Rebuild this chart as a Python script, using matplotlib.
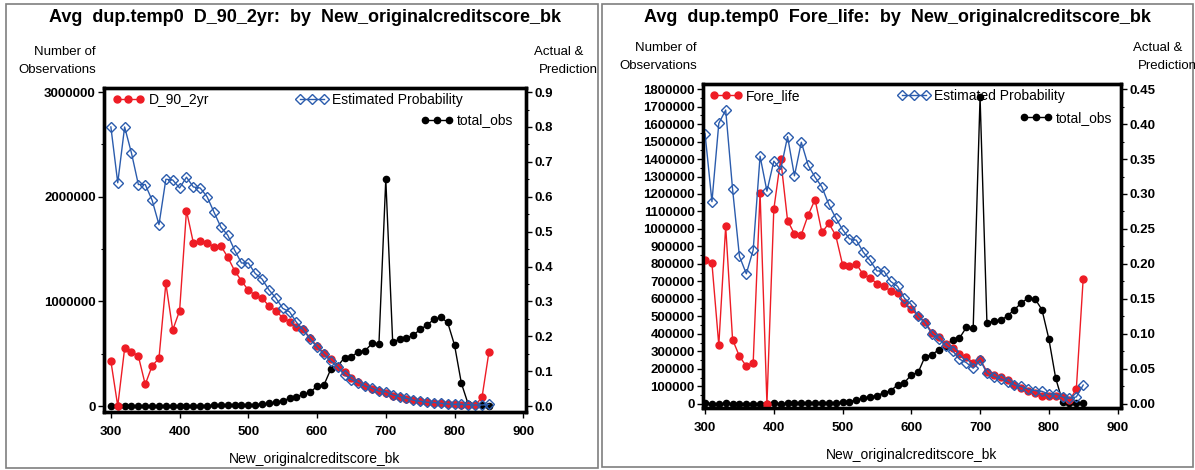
import matplotlib
matplotlib.use("Agg")
import matplotlib.pyplot as plt
from matplotlib.patches import Rectangle
from matplotlib.ticker import MultipleLocator, FormatStrFormatter, FuncFormatter

plt.rcParams["font.family"] = ["Liberation Sans", "DejaVu Sans"]

# credit score bins (x categories)
score_bins = [300, 310, 320, 330, 340, 350, 360, 370, 380, 390,
              400, 410, 420, 430, 440, 450, 460, 470, 480, 490,
              500, 510, 520, 530, 540, 550, 560, 570, 580, 590,
              600, 610, 620, 630, 640, 650, 660, 670, 680, 690,
              700, 710, 720, 730, 740, 750, 760, 770, 780, 790,
              800, 810, 820, 830, 840, 850]

# left panel: D_90_2yr
d90_actual = [0.129, 0.000, 0.165, 0.156, 0.143, 0.062, 0.115, 0.137, 0.352, 0.218,
              0.273, 0.560, 0.468, 0.473, 0.467, 0.457, 0.459, 0.427, 0.388, 0.359,
              0.332, 0.318, 0.309, 0.287, 0.273, 0.253, 0.242, 0.227, 0.220, 0.194,
              0.172, 0.151, 0.135, 0.113, 0.098, 0.080, 0.068, 0.058, 0.050, 0.044,
              0.038, 0.030, 0.026, 0.021, 0.017, 0.014, 0.011, 0.009, 0.008, 0.006,
              0.005, 0.004, 0.003, 0.002, 0.025, 0.154]
d90_est = [0.800, 0.640, 0.800, 0.725, 0.635, 0.635, 0.590, 0.520, 0.650, 0.648,
           0.625, 0.656, 0.628, 0.625, 0.600, 0.556, 0.513, 0.490, 0.447, 0.410,
           0.410, 0.380, 0.364, 0.333, 0.310, 0.280, 0.270, 0.240, 0.218, 0.192,
           0.169, 0.149, 0.129, 0.112, 0.090, 0.076, 0.067, 0.057, 0.051, 0.043,
           0.041, 0.032, 0.027, 0.022, 0.017, 0.014, 0.011, 0.010, 0.008, 0.006,
           0.005, 0.005, 0.004, 0.003, 0.003, 0.005]
d90_obs = [2000, 1000, 3000, 2000, 1500, 1500, 2000, 2500, 2500, 3000,
           3500, 3500, 4000, 4500, 5000, 5500, 6000, 7000, 8000, 9000,
           8000, 12000, 19000, 25000, 35000, 51000, 73000, 89000, 111000, 130000,
           191000, 200000, 353000, 382000, 463000, 471000, 519000, 528000, 599000, 589000,
           2168000, 614000, 637000, 647000, 678000, 732000, 774000, 828000, 847000, 799000,
           583000, 217000, 16000, 10000, 8000, 5000]

# right panel: Fore_life
fore_actual = [0.206, 0.201, 0.084, 0.254, 0.092, 0.068, 0.054, 0.059, 0.302, 0.000,
               0.278, 0.350, 0.262, 0.243, 0.242, 0.270, 0.292, 0.245, 0.258, 0.241,
               0.199, 0.197, 0.200, 0.185, 0.180, 0.172, 0.169, 0.161, 0.159, 0.144,
               0.136, 0.125, 0.117, 0.102, 0.095, 0.085, 0.080, 0.071, 0.067, 0.059,
               0.064, 0.046, 0.042, 0.038, 0.034, 0.027, 0.023, 0.018, 0.016, 0.012,
               0.011, 0.011, 0.010, 0.005, 0.021, 0.179]
fore_est = [0.386, 0.289, 0.401, 0.420, 0.307, 0.211, 0.186, 0.220, 0.354, 0.304,
            0.347, 0.335, 0.382, 0.326, 0.374, 0.341, 0.324, 0.310, 0.285, 0.266,
            0.249, 0.236, 0.234, 0.217, 0.205, 0.190, 0.190, 0.175, 0.168, 0.151,
            0.142, 0.125, 0.116, 0.100, 0.093, 0.083, 0.076, 0.064, 0.059, 0.051,
            0.063, 0.044, 0.039, 0.036, 0.032, 0.027, 0.025, 0.021, 0.019, 0.018,
            0.014, 0.014, 0.010, 0.008, 0.010, 0.027]
fore_obs = [3000, 1500, 1500, 3000, 2000, 1500, 1500, 1500, 1500, 2000,
            3000, 2000, 3000, 3000, 3500, 3500, 3500, 4000, 4000, 5000,
            9700, 13000, 23000, 32000, 42000, 46000, 65000, 74500, 109000, 122000,
            166000, 180000, 271000, 281000, 310000, 332000, 367000, 376000, 437000, 434000,
            1754000, 462000, 476000, 477000, 504000, 539000, 577000, 606000, 600000, 539000,
            373000, 147000, 13000, 4000, 4000, 3000]

W, H = 1195, 470
RED = "#ee1c25"
BLUE = "#2b5cad"
FS = 9.5


def fx(x):
    return x / W


def fy(y):
    return 1 - y / H


def draw_panel(fig, box, title, title_x, actual, est, obs, actual_name,
               obs_max, obs_step, prob_max, prob_step, prob_fmt, xlim, ylim_pad,
               left_lab, right_lab, leg):
    x0, y0, x1, y1 = box
    ax = fig.add_axes([fx(x0), fy(y1), fx(x1) - fx(x0), fy(y0) - fy(y1)])
    ax2 = ax.twinx()

    # total_obs on left axis, probabilities on right axis
    ax.plot(score_bins, obs, color="black", marker="o", markersize=4.5, lw=1.0,
            label="total_obs")
    ax2.plot(score_bins, actual, color=RED, marker="o", markersize=5, lw=1.0,
             label=actual_name)
    ax2.plot(score_bins, est, color=BLUE, marker="D", markersize=5, mfc="none",
             mew=1.0, lw=1.0, label="Estimated Probability")

    lo, hi = ylim_pad
    ax.set_xlim(*xlim)
    ax.set_ylim(lo * obs_max, hi * obs_max)
    ax2.set_ylim(lo * prob_max, hi * prob_max)

    ax.xaxis.set_major_locator(MultipleLocator(100))
    ax.yaxis.set_major_locator(MultipleLocator(obs_step))
    ax.yaxis.set_minor_locator(MultipleLocator(obs_step / 2))
    ax.yaxis.set_major_formatter(FuncFormatter(lambda v, p: f"{int(round(v))}"))
    ax2.yaxis.set_major_locator(MultipleLocator(prob_step))
    ax2.yaxis.set_minor_locator(MultipleLocator(prob_step / 2))
    ax2.yaxis.set_major_formatter(FormatStrFormatter(prob_fmt))

    for a in (ax, ax2):
        for s in a.spines.values():
            s.set_linewidth(2.4)
        a.tick_params(which="major", direction="out", length=4, width=1,
                      labelsize=FS, pad=2)
        a.tick_params(which="minor", direction="out", length=2.5, width=0.8)
        for lab in a.get_xticklabels() + a.get_yticklabels():
            lab.set_fontweight("bold")
    ax.tick_params(axis="x", pad=6)

    ax.set_xlabel("New_originalcreditscore_bk", fontsize=FS + 0.5, labelpad=10)

    # legends
    lines1 = ax2.get_lines()
    lines0 = ax.get_lines()
    kw = dict(frameon=False, fontsize=10, numpoints=3, handlelength=2.3,
              handletextpad=0.3, borderpad=0, borderaxespad=0)
    l1 = ax2.legend([lines1[0]], [actual_name], loc="center left",
                    bbox_to_anchor=(leg[0], leg[1]), **kw)
    ax2.add_artist(l1)
    l2 = ax2.legend([lines1[1]], ["Estimated Probability"], loc="center left",
                    bbox_to_anchor=(leg[2], leg[1]), **kw)
    ax2.add_artist(l2)
    ax2.legend([lines0[0]], ["total_obs"], loc="center right",
               bbox_to_anchor=(leg[3], leg[4]), **kw)

    fig.text(fx(title_x), fy(18), title, fontsize=13, fontweight="bold",
             ha="center", va="center")
    fig.text(fx(left_lab[0]), fy(left_lab[1]), "Number of", fontsize=FS,
             ha="right", va="center")
    fig.text(fx(left_lab[0]), fy(left_lab[1] + 18), "Observations", fontsize=FS,
             ha="right", va="center")
    fig.text(fx(right_lab[0]), fy(right_lab[1]), "Actual &", fontsize=FS,
             ha="center", va="center")
    fig.text(fx(right_lab[0] + 9), fy(right_lab[1] + 18), "Prediction", fontsize=FS,
             ha="center", va="center")
    return ax, ax2


fig = plt.figure(figsize=(W / 100, H / 100), dpi=100)

# panel borders
fig.patches.append(Rectangle((fx(6), fy(468)), fx(598) - fx(6), fy(4) - fy(468),
                             transform=fig.transFigure, fill=False,
                             edgecolor="#7f7f7f", lw=1.2))
fig.patches.append(Rectangle((fx(602), fy(467)), fx(1193) - fx(602), fy(4) - fy(467),
                             transform=fig.transFigure, fill=False,
                             edgecolor="#7f7f7f", lw=1.2))

draw_panel(fig, (104, 88, 526, 412),
           "Avg  dup.temp0  D_90_2yr:  by  New_originalcreditscore_bk", 305,
           d90_actual, d90_est, d90_obs, "D_90_2yr",
           3000000, 1000000, 0.9, 0.1, "%.1f", (290, 904), (-0.019, 1.013),
           (96, 52), (559, 52), (0.02, 0.963, 0.455, 0.97, 0.90))

draw_panel(fig, (703, 84, 1121, 408),
           "Avg  dup.temp0  Fore_life:  by  New_originalcreditscore_bk", 897,
           fore_actual, fore_est, fore_obs, "Fore_life",
           1800000, 100000, 0.45, 0.05, "%.2f", (297, 905), (-0.013, 1.016),
           (697, 48), (1158, 48), (0.017, 0.962, 0.466, 0.98, 0.895))

fig.savefig("out.png", dpi=100)
